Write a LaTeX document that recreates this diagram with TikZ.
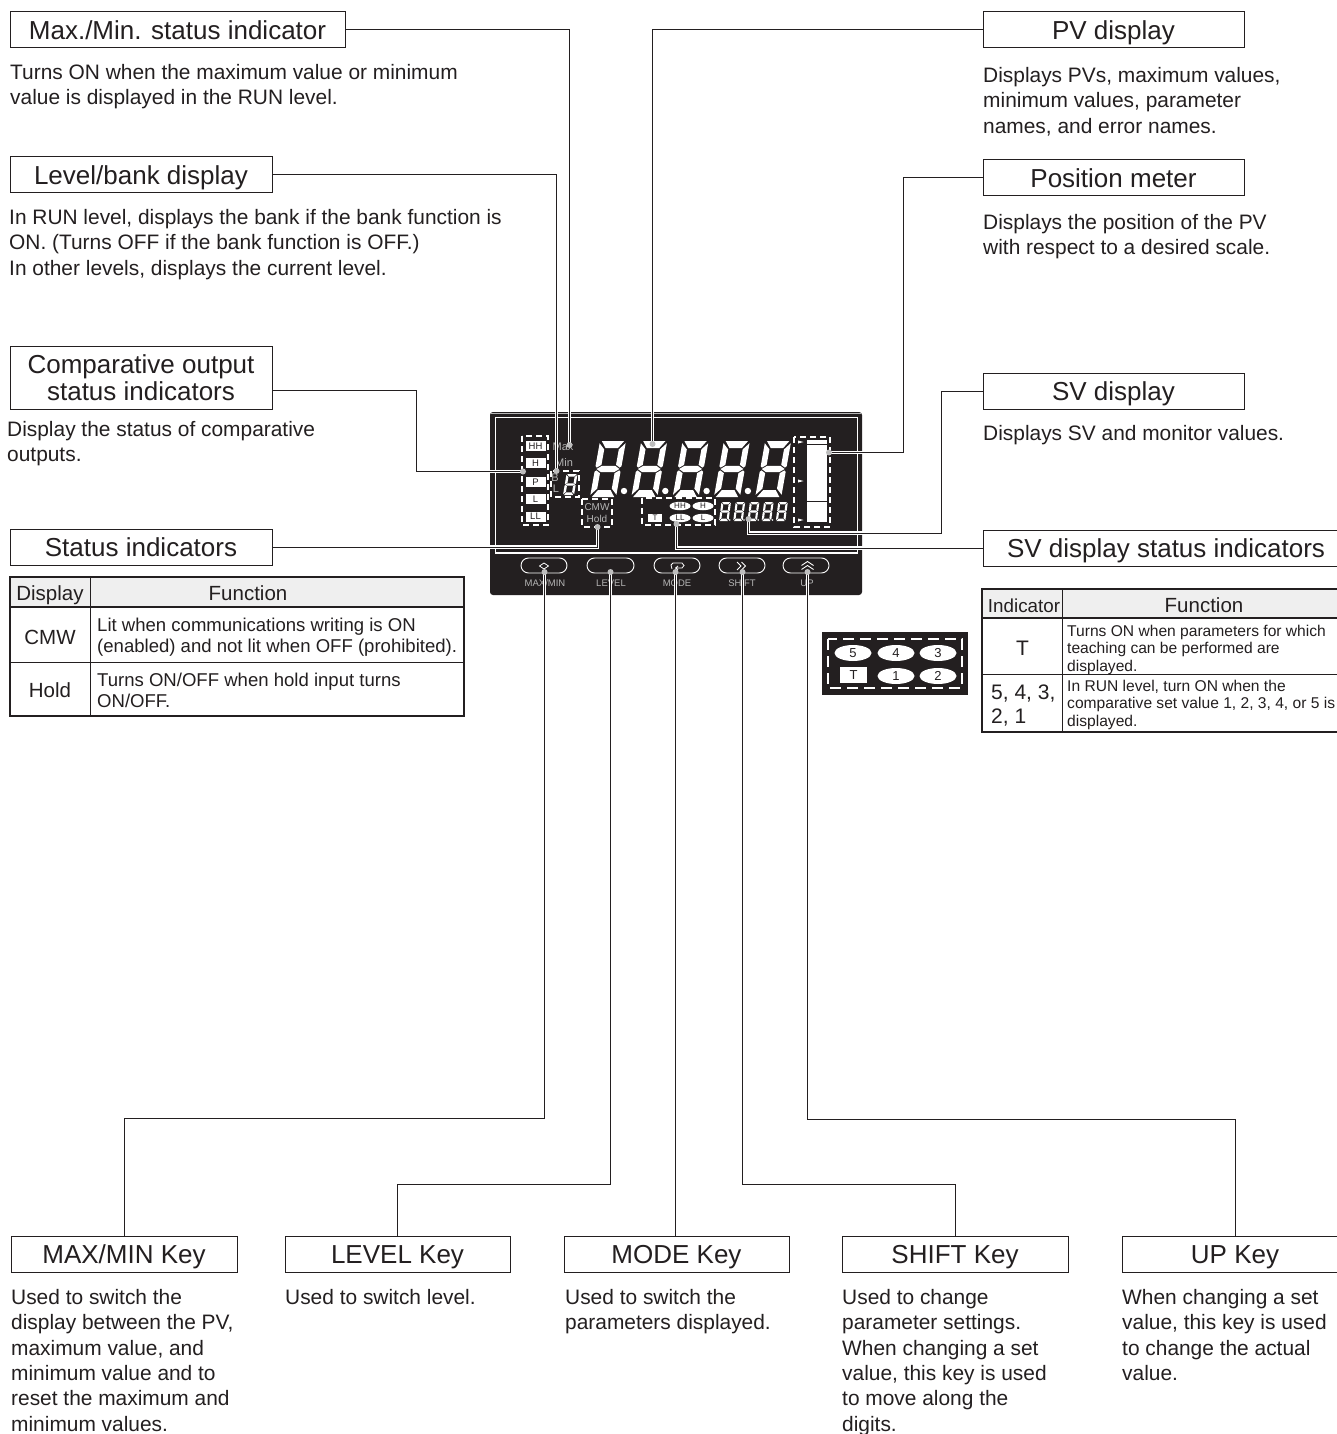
\documentclass[tikz,border=0pt]{standalone}
\usepackage{fontspec}
\setmainfont{Liberation Sans}
\usetikzlibrary{shapes.geometric}
\definecolor{ink}{HTML}{231F20}
\definecolor{dot}{HTML}{BDBDBD}
\definecolor{hdr}{HTML}{EFEFEF}
\definecolor{lit}{HTML}{B5B5B5}
\newcommand{\fsz}[2]{\fontsize{#1}{#2}\selectfont}
% x, y (bottom-left), width, height, slant
\newcommand{\segdigit}[5]{%
\begin{scope}[shift={(#1,#2)},x={(#3pt,0pt)},y={(#5pt,#4pt)}]
\fill[white] (0.07,1)--(0.93,1)--(0.74,0.875)--(0.26,0.875)--cycle;
\fill[white] (0.07,0)--(0.93,0)--(0.74,0.125)--(0.26,0.125)--cycle;
\fill[white] (0.06,0.5)--(0.24,0.555)--(0.76,0.555)--(0.94,0.5)--(0.76,0.445)--(0.24,0.445)--cycle;
\fill[white] (0,0.96)--(0.22,0.85)--(0.22,0.575)--(0.06,0.525)--(0,0.55)--cycle;
\fill[white] (1,0.96)--(0.78,0.85)--(0.78,0.575)--(0.94,0.525)--(1,0.55)--cycle;
\fill[white] (0,0.04)--(0.22,0.15)--(0.22,0.425)--(0.06,0.475)--(0,0.45)--cycle;
\fill[white] (1,0.04)--(0.78,0.15)--(0.78,0.425)--(0.94,0.475)--(1,0.45)--cycle;
\end{scope}}
\tikzset{
  x=1pt,y=-1pt,
  every node/.style={text=ink,inner sep=0pt},
  label box/.style={draw=ink,line width=1pt,fill=white,font=\fsz{26}{27},align=center,anchor=north west,minimum height=36pt,text height=24pt,text depth=5pt},
  two line box/.style={draw=ink,line width=1pt,fill=white,font=\fsz{26}{27},align=center,anchor=north west,minimum height=63pt},
  body/.style={anchor=north west,align=left,font=\fsz{20.9}{25.4}},
  conn/.style={draw=ink,line width=1pt,preaction={draw=white,line width=3.4pt}},
  dashbox/.style={draw=white,line width=1.2pt,dash pattern=on 6pt off 4pt},
  lamp/.style={fill=white,font=\fsz{9.5}{10},text=ink,align=center},
  oval/.style={ellipse,fill=white,font=\fsz{8}{9},text=ink},
  glow/.style={text=lit,font=\fsz{11}{12}},
  keycap/.style={draw=white,line width=0.9pt,rounded corners=7.5pt},
  keytext/.style={text=lit,font=\fsz{9.5}{10}},
  mini/.style={ellipse,fill=white,font=\fsz{13}{14},text=ink,minimum width=37pt,minimum height=16pt},
  tabrule/.style={draw=ink,line width=0.9pt},
  tabframe/.style={draw=ink,line width=1.8pt},
  head/.style={anchor=base,font=\fsz{20.5}{24}},
}
\begin{document}
\begin{tikzpicture}
\useasboundingbox (0,0) rectangle (1337,1434);
\clip (0,0) rectangle (1337,1434);
\fill[white] (0,0) rectangle (1337,1434);

% panel
\fill[ink,rounded corners=3pt] (490,412) rectangle (862,595);
\draw[lit,line width=1pt] (491,413) -- (861,413);
\draw[white,line width=1pt] (495,553) -- (495,417) -- (857,417) -- (857,553);
\draw[white,line width=1.2pt] (495,553) -- (858,553);

% big digits
\foreach \i in {0,1,2,3,4} {\pgfmathsetmacro{\xx}{590+41.3*\i}\segdigit{\xx}{497}{26}{56}{10}}
\foreach \i in {0,1,2,3} {\fill[white] ({624+41.3*\i},491) circle (3.2);}
% small digits
\foreach \i in {0,1,2,3,4} {\pgfmathsetmacro{\xx}{719+14.2*\i}\segdigit{\xx}{521}{9.5}{19}{2.5}}
\foreach \i in {0,1,2,3} {\fill[white] ({729.8+14.2*\i},520) circle (0.9);}
\segdigit{563}{495}{11}{21}{3.5}

% dashed groups
\draw[dashbox] (522,436) rectangle (548,525);
\draw[dashbox] (551,471) rectangle (579,497);
\draw[dashbox] (582,499) rectangle (612,527);
\draw[dashbox] (642,498) rectangle (715,525);
\draw[dashbox] (794,437) rectangle (830,527);

% lamps
\node[lamp,minimum width=20pt,minimum height=10pt] (lHH) at (535.5,446) {HH};
\node[lamp,minimum width=20pt,minimum height=10pt] (lH) at (535.5,463) {H};
\node[lamp,minimum width=20pt,minimum height=10pt] (lP) at (535.5,482) {P};
\node[lamp,minimum width=20pt,minimum height=10pt] (lL) at (535.5,499) {L};
\node[lamp,minimum width=20pt,minimum height=10pt] (lLL) at (535.5,516.5) {LL};
\node[glow] (tMax) at (563,447) {Max};
\node[glow] (tMin) at (564,463) {Min};
\node[glow] (tB) at (555,478) {B};
\node[glow] (tL) at (556,489) {L};
\node[glow,font=\fsz{10}{11}] (tCMW) at (597,507) {CMW};
\node[glow,font=\fsz{10}{11}] (tHold) at (597,519) {Hold};
\node[lamp,minimum width=14pt,minimum height=8.5pt,font=\fsz{8}{9}] (lT) at (655,518) {T};
\node[oval,minimum width=21pt,minimum height=8.5pt] (oHH) at (680,506) {HH};
\node[oval,minimum width=21pt,minimum height=8.5pt] (oH) at (703,506) {H};
\node[oval,minimum width=21pt,minimum height=8.5pt] (oLL) at (680,518) {LL};
\node[oval,minimum width=21pt,minimum height=8.5pt] (oL) at (703,518) {L};

% position meter
\fill[white] (807,440) rectangle (827,522);
\draw[ink,line width=0.8pt] (807,444.5) -- (827,444.5) (807,501) -- (827,501);
\foreach \yy in {442,481,520} {\fill[white] (798,\yy-1.5) -- (803.5,\yy) -- (798,\yy+1.5) -- cycle;}

% keys
\draw[keycap] (521,558) rectangle (567,573);
\draw[keycap] (587,558) rectangle (634,573);
\draw[keycap] (654,558) rectangle (700,573);
\draw[keycap] (719,558) rectangle (765,573);
\draw[keycap] (783,558) rectangle (829,573);
\draw[white,line width=0.8pt] (539.5,566) -- (544,563) -- (548.5,566) -- (544,569) -- cycle;
\draw[white,line width=0.8pt] (672,569) -- (671,565) -- (673,563) -- (682,563) -- (684,565.5) -- (682,568) -- (676,568) (678,566) -- (675.5,568) -- (678,570);
\draw[white,line width=0.9pt] (737,562) -- (741,566) -- (737,570) (741.5,562) -- (745.5,566) -- (741.5,570);
\draw[white,line width=0.9pt] (801.5,565.5) -- (807.5,561.5) -- (813.5,565.5) (801.5,569.5) -- (807.5,565.5) -- (813.5,569.5);
\node[keytext] (kMax) at (545,583) {MAX/MIN};
\node[keytext] (kLev) at (611,583) {LEVEL};
\node[keytext] (kMod) at (677,583) {MODE};
\node[keytext] (kShi) at (742,583) {SHIFT};
\node[keytext] (kUp) at (807,583) {UP};

% label boxes
\node[label box,minimum width=335pt] (bMax) at (9.5,11.5) {Max./Min. status indicator};
\node[label box,minimum width=262pt] (bLevel) at (9.5,156.5) {Level/bank display};
\node[two line box,minimum width=262pt] (bComp) at (9.5,345.5) {Comparative output\\status indicators};
\node[label box,minimum width=262pt] (bStat) at (9.5,528.5) {Status indicators};
\node[label box,minimum width=261pt] (bPV) at (982.5,11.5) {PV display};
\node[label box,minimum width=261pt] (bPos) at (982.5,159.5) {Position meter};
\node[label box,minimum width=261pt] (bSV) at (982.5,372.5) {SV display};
\node[label box,minimum width=366pt] (bSS) at (982.5,529.5) {SV display status indicators};
\node[label box,minimum width=226pt] (bkMax) at (10.5,1235.5) {MAX/MIN Key};
\node[label box,minimum width=225pt] (bkLev) at (284.5,1235.5) {LEVEL Key};
\node[label box,minimum width=225pt] (bkMod) at (563.5,1235.5) {MODE Key};
\node[label box,minimum width=226pt] (bkShi) at (841.5,1235.5) {SHIFT Key};
\node[label box,minimum width=226pt] (bkUp) at (1121.5,1235.5) {UP Key};

% connector ends
\coordinate (dMax) at (569.5,445);
\coordinate (dLevel) at (556.5,471);
\coordinate (dComp) at (523,471.5);
\coordinate (dStat) at (597.5,527);
\coordinate (dPV) at (652.5,444);
\coordinate (dPos) at (829,452.5);
\coordinate (dSV) at (748.5,519);
\coordinate (dSS) at (676.5,524);
\coordinate (dkMax) at (544.5,572);
\coordinate (dkLev) at (610.5,572);
\coordinate (dkMod) at (675.5,572);
\coordinate (dkShi) at (742.5,572);
\coordinate (dkUp) at (807.5,572);

% connectors
\draw[conn] (bMax.east) -| (dMax);
\draw[conn] (bLevel.east) -| (dLevel);
\draw[conn] ([yshift=-13pt]bComp.east) -- ++(144,0) |- (dComp);
\draw[conn] (bStat.east) -| (dStat);
\draw[conn] (bPV.west) -| (dPV);
\draw[conn] (bPos.west) -- ++(-79,0) |- (dPos);
\draw[conn] (bSV.west) -- ++(-41,0) -- ++(0,142) -| (dSV);
\draw[conn] (bSS.west) -| (dSS);
\draw[conn] (dkMax) -- ++(0,546.5) -| (bkMax.north);
\draw[conn] (dkLev) -- ++(0,612.5) -| (bkLev.north);
\draw[conn] (dkMod) -- (dkMod |- bkMod.north);
\draw[conn] (dkShi) -- ++(0,612.5) -| (bkShi.north);
\draw[conn] (dkUp) -- ++(0,547.5) -| (bkUp.north);
\foreach \c in {dMax,dLevel,dComp,dStat,dPV,dPos,dSV,dSS,dkMax,dkLev,dkMod,dkShi,dkUp} {\fill[dot] (\c) circle (3);}

% body texts
\node[body] (tx1) at (10,64) {Turns ON when the maximum value or minimum\\value is displayed in the RUN level.};
\node[body] (tx2) at (9,209) {In RUN level, displays the bank if the bank function is\\ON. (Turns OFF if the bank function is OFF.)\\In other levels, displays the current level.};
\node[body] (tx3) at (7,421) {Display the status of comparative\\outputs.};
\node[body] (tx4) at (983,67) {Displays PVs, maximum values,\\minimum values, parameter\\names, and error names.};
\node[body] (tx5) at (983,214) {Displays the position of the PV\\with respect to a desired scale.};
\node[body] (tx6) at (983,425) {Displays SV and monitor values.};
\node[body] (tx7) at (11,1289) {Used to switch the\\display between the PV,\\maximum value, and\\minimum value and to\\reset the maximum and\\minimum values.};
\node[body] (tx8) at (285,1289) {Used to switch level.};
\node[body] (tx9) at (565,1289) {Used to switch the\\parameters displayed.};
\node[body] (tx10) at (842,1289) {Used to change\\parameter settings.\\When changing a set\\value, this key is used\\to move along the\\digits.};
\node[body] (tx11) at (1122,1289) {When changing a set\\value, this key is used\\to change the actual\\value.};

% left table
\fill[hdr] (10,577) rectangle (464,607);
\draw[tabrule] (90,577) -- (90,716) (10,662) -- (464,662);
\draw[ink,line width=1.5pt] (10,607) -- (464,607);
\draw[tabframe] (10,577) rectangle (464,716);
\node[head] (lh1) at (50,600) {Display};
\node[head] (lh2) at (248,600) {Function};
\node[font=\fsz{20.5}{24}] (lc1) at (50,637) {CMW};
\node[font=\fsz{20.5}{24}] (lc2) at (50,690) {Hold};
\node[anchor=west,align=left,font=\fsz{18.55}{21}] (ld1) at (97,637.5) {Lit when communications writing is ON\\(enabled) and not lit when OFF (prohibited).};
\node[anchor=west,align=left,font=\fsz{18.55}{21}] (ld2) at (97,690.5) {Turns ON/OFF when hold input turns\\ON/OFF.};

% mini figure
\fill[ink] (822,632) rectangle (968,695);
\draw[dashbox,line width=1.5pt,dash pattern=on 11pt off 6pt] (828,639) rectangle (962,688);
\node[mini] (m5) at (853,653) {5};
\node[mini] (m4) at (896,653) {4};
\node[mini] (m3) at (938,653) {3};
\node[mini] (m1) at (896,676) {1};
\node[mini] (m2) at (938,676) {2};
\node[fill=white,minimum width=27pt,minimum height=16pt,font=\fsz{13}{14}] (mT) at (853.5,675) {T};

% right table
\fill[hdr] (982,589) rectangle (1345,618);
\draw[tabrule] (1062.7,589) -- (1062.7,732) (982,674) -- (1345,674);
\draw[ink,line width=1.5pt] (982,618) -- (1345,618);
\draw[tabframe] (982,589) rectangle (1345,732);
\node[head,font=\fsz{18.8}{24}] (rh1) at (1024,612) {Indicator};
\node[head] (rh2) at (1204,612) {Function};
\node[font=\fsz{21}{24}] (rc1) at (1022.5,648) {T};
\node[anchor=north west,align=left,font=\fsz{21}{24}] (rc2) at (991,685) {5, 4, 3,\\2, 1};
\node[anchor=west,align=left,font=\fsz{15.6}{17.5}] (rd1) at (1067,649.5) {Turns ON when parameters for which\\teaching can be performed are\\displayed.};
\node[anchor=west,align=left,font=\fsz{15.6}{17.5}] (rd2) at (1067,704.5) {In RUN level, turn ON when the\\comparative set value 1, 2, 3, 4, or 5 is\\displayed.};
\end{tikzpicture}
\end{document}
